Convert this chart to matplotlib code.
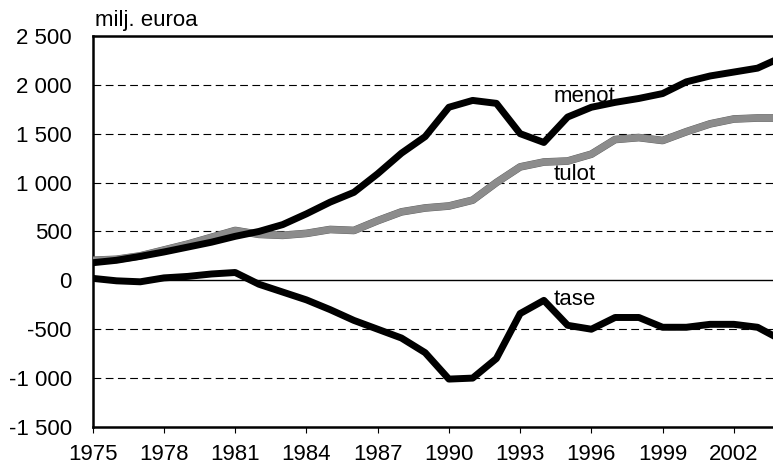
import matplotlib.pyplot as plt
import matplotlib.patheffects as pe

plt.rcParams['font.family'] = ['Liberation Sans', 'DejaVu Sans']

years = list(range(1975, 2005))
menot = [180, 205, 245, 290, 340, 390, 450, 500, 570, 680, 800, 900, 1090, 1300, 1470,
         1770, 1840, 1810, 1500, 1410, 1670, 1770, 1820, 1860, 1910, 2030, 2090, 2130, 2170, 2280]
tulot = [205, 215, 250, 310, 370, 440, 510, 470, 460, 480, 520, 510, 610, 700, 740,
         760, 820, 1000, 1160, 1210, 1220, 1290, 1440, 1460, 1430, 1520, 1600, 1650, 1660, 1660]
tase = [20, -5, -15, 25, 40, 65, 80, -40, -120, -200, -300, -410, -500, -590, -740,
        -1010, -1000, -800, -340, -205, -460, -500, -380, -380, -480, -480, -450, -450, -480, -610]

yticks = [-1500, -1000, -500, 0, 500, 1000, 1500, 2000, 2500]
ytick_labels = ['-1 500', '-1 000', '-500', '0', '500', '1 000', '1 500', '2 000', '2 500']
xticks = list(range(1975, 2005, 3))

fig = plt.figure(figsize=(7.73, 4.66), dpi=100)
ax = fig.add_axes([0.120, 0.0837, 0.88, 0.8393])

# grid lines
for v in yticks[1:-1]:
    if v == 0:
        ax.axhline(0, color='black', lw=1.0, zorder=1)
    else:
        ax.axhline(v, color='black', lw=0.8, ls=(0, (7, 4)), zorder=1)

ax.plot(years, tulot, color='#8c8c8c', lw=5, zorder=3,
        path_effects=[pe.Stroke(linewidth=5.5, foreground='#5e5e5e'), pe.Normal()])
ax.plot(years, menot, color='black', lw=5, zorder=4)
ax.plot(years, tase, color='black', lw=5, zorder=4)

ax.text(1994.39, 1820, 'menot', fontsize=16, va='baseline', ha='left', zorder=5)
ax.text(1994.39, 1023, 'tulot', fontsize=16, va='baseline', ha='left', zorder=5)
ax.text(1994.39, -256, 'tase', fontsize=16, va='baseline', ha='left', zorder=5)

ax.set_xlim(1975, 2003.65)
ax.set_ylim(-1500, 2500)
ax.set_yticks(yticks)
ax.set_yticklabels(ytick_labels, fontsize=16)
ax.set_xticks(xticks)
ax.set_xticklabels([str(x) for x in xticks], fontsize=16)
ax.tick_params(axis='y', length=0, pad=15)
ax.tick_params(axis='x', length=4, width=0.8, direction='out', pad=8)

for s in ['left', 'top', 'bottom']:
    ax.spines[s].set_linewidth(1.8)
ax.spines['right'].set_visible(False)

fig.text(0.123, 0.944, 'milj. euroa', fontsize=16, va='baseline', ha='left')

fig.savefig('out.png', dpi=100)
